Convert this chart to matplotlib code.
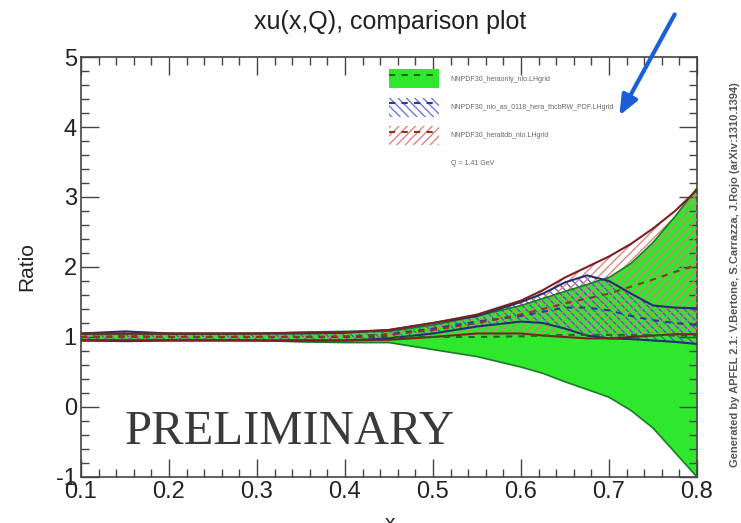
import matplotlib
matplotlib.use('Agg')
import matplotlib.pyplot as plt
from matplotlib.patches import Patch
from matplotlib.lines import Line2D
from matplotlib.ticker import MultipleLocator

# x grid
x = [0.10, 0.15, 0.20, 0.25, 0.30, 0.35, 0.40, 0.45, 0.50, 0.55,
     0.60, 0.625, 0.65, 0.675, 0.70, 0.725, 0.75, 0.775, 0.80]

# NNPDF30_heraonly_nlo (green, solid)
green_up = [1.04, 1.04, 1.04, 1.04, 1.05, 1.07, 1.08, 1.08, 1.17, 1.30,
            1.45, 1.55, 1.65, 1.75, 1.85, 2.05, 2.35, 2.72, 3.13]
green_lo = [0.96, 0.96, 0.96, 0.96, 0.95, 0.93, 0.92, 0.92, 0.82, 0.72,
            0.57, 0.48, 0.36, 0.25, 0.14, -0.05, -0.30, -0.65, -1.00]
green_c = [1.00, 1.00, 1.00, 1.00, 1.00, 1.00, 1.00, 1.00, 1.00, 1.00,
           1.01, 1.02, 1.03, 1.03, 1.03, 1.03, 1.03, 1.02, 1.02]

# NNPDF30_nlo_as_0118_hera_thcbRW (blue, hatched)
blue_up = [1.05, 1.08, 1.05, 1.05, 1.05, 1.05, 1.06, 1.10, 1.20, 1.30,
           1.50, 1.62, 1.78, 1.88, 1.80, 1.62, 1.45, 1.42, 1.41]
blue_lo = [0.95, 0.94, 0.95, 0.95, 0.95, 0.95, 0.95, 0.98, 1.05, 1.15,
           1.22, 1.20, 1.12, 1.02, 0.98, 0.97, 0.95, 0.93, 0.90]
blue_c = [1.00, 1.01, 1.00, 1.00, 1.00, 1.00, 1.00, 1.04, 1.12, 1.22,
          1.30, 1.36, 1.42, 1.42, 1.38, 1.30, 1.24, 1.20, 1.17]

# NNPDF30_heraltdb_nlo (red, hatched)
red_up = [1.05, 1.05, 1.05, 1.05, 1.05, 1.06, 1.07, 1.10, 1.20, 1.32,
          1.52, 1.67, 1.85, 2.00, 2.15, 2.33, 2.55, 2.80, 3.10]
red_lo = [0.95, 0.95, 0.95, 0.95, 0.95, 0.95, 0.95, 0.96, 1.00, 1.05,
          1.05, 1.02, 1.00, 0.98, 0.98, 1.00, 1.02, 1.04, 1.04]
red_c = [1.00, 1.00, 1.00, 1.00, 1.00, 1.00, 1.01, 1.03, 1.10, 1.20,
         1.32, 1.40, 1.48, 1.55, 1.62, 1.72, 1.82, 1.93, 2.03]

labels = ['NNPDF30_heraonly_nlo.LHgrid',
          'NNPDF30_nlo_as_0118_hera_thcbRW_PDF.LHgrid',
          'NNPDF30_heraltdb_nlo.LHgrid']

xticks = [0.1, 0.2, 0.3, 0.4, 0.5, 0.6, 0.7, 0.8]
yticks = [-1, 0, 1, 2, 3, 4, 5]

plt.rcParams['font.family'] = ['Liberation Sans', 'DejaVu Sans']
plt.rcParams['hatch.linewidth'] = 0.9

fig = plt.figure(figsize=(7.41, 5.23), dpi=100)
ax = fig.add_axes([0.1093, 0.088, 0.8313, 0.803])

# green band
ax.fill_between(x, green_lo, green_up, facecolor='#2ee82e', edgecolor='none', zorder=1)
ax.plot(x, green_up, color='#1d7a2a', lw=1.2, zorder=4)
ax.plot(x, green_lo, color='#1d7a2a', lw=1.2, zorder=4)
ax.plot(x, green_c, color='#1d6a1d', lw=1.5, ls=(0, (3, 3)), zorder=5)

# blue band
ax.fill_between(x, blue_lo, blue_up, facecolor='none', edgecolor='#4a55c0', hatch='\\\\\\\\', lw=0, zorder=2)
ax.plot(x, blue_up, color='#23306e', lw=1.5, zorder=4)
ax.plot(x, blue_lo, color='#23306e', lw=1.5, zorder=4)
ax.plot(x, blue_c, color='#2a3a9a', lw=1.5, ls=(0, (3, 3)), zorder=5)

# red band
ax.fill_between(x, red_lo, red_up, facecolor='none', edgecolor='#e07a7a', hatch='////', lw=0, zorder=3)
ax.plot(x, red_up, color='#7a2222', lw=1.5, zorder=4)
ax.plot(x, red_lo, color='#7a2222', lw=1.5, zorder=4)
ax.plot(x, red_c, color='#8a3a1a', lw=1.5, ls=(0, (3, 3)), zorder=5)

ax.set_xlim(0.1, 0.8)
ax.set_ylim(-1, 5)
ax.set_xticks(xticks)
ax.set_xticklabels([f'{v:.1f}' for v in xticks])
ax.set_yticks(yticks)
ax.set_yticklabels([str(v) for v in yticks])
ax.xaxis.set_minor_locator(MultipleLocator(0.02))
ax.yaxis.set_minor_locator(MultipleLocator(0.2))
ax.tick_params(which='both', direction='in', top=True, right=True, colors='#444444',
               labelcolor='#222222', labelsize=17)
ax.tick_params(which='major', length=13, width=1, pad=3)
ax.tick_params(which='minor', length=6, width=1)
for s in ax.spines.values():
    s.set_color('#444444')
    s.set_linewidth(1.2)

ax.set_ylabel('Ratio', fontsize=15, color='#222222', labelpad=14)
fig.text(0.526, -0.02, 'x', fontsize=15, color='#222222', ha='center', va='bottom')
fig.text(0.526, 0.957, 'xu(x,Q), comparison plot', fontsize=18, color='#222222',
         ha='center', va='center')

# legend
handles = [
    (Patch(facecolor='#2ee82e', edgecolor='none'),
     Line2D([], [], color='#1d6a1d', lw=1.5, ls=(0, (3, 3)))),
    (Patch(facecolor='none', edgecolor='#6a6ae0', hatch='\\\\\\\\', lw=0),
     Line2D([], [], color='#2a3a9a', lw=1.5, ls=(0, (3, 3)))),
    (Patch(facecolor='none', edgecolor='#e07a7a', hatch='////', lw=0),
     Line2D([], [], color='#8a3a1a', lw=1.5, ls=(0, (3, 3)))),
    Patch(facecolor='none', edgecolor='none'),
]
leg = ax.legend(handles, labels + ['Q = 1.41 GeV'], loc='upper left',
                bbox_to_anchor=(386 / 741, 1 - 66 / 523), bbox_transform=fig.transFigure,
                frameon=False, fontsize=5, handlelength=7.2, handleheight=3.8,
                labelspacing=1.35, handletextpad=1.6, borderpad=0)
for t in leg.get_texts():
    t.set_color('#666666')

ax.text(0.071, 0.107, 'PRELIMINARY', transform=ax.transAxes, fontsize=35,
        family=['Liberation Serif', 'DejaVu Serif'], color='#3a3a3a', ha='left', va='center')

fig.text(0.992, 0.474,
         'Generated by APFEL 2.1: V.Bertone, S.Carrazza, J.Rojo (arXiv:1310.1394)',
         rotation=90, fontsize=8, fontweight='bold', color='#555555',
         ha='center', va='center')

ax.annotate('', xy=(618 / 741, 1 - 118 / 523), xytext=(676 / 741, 1 - 12 / 523),
            xycoords='figure fraction', textcoords='figure fraction',
            arrowprops=dict(arrowstyle='-|>,head_length=1.2,head_width=0.5',
                            color='#1a5ed8', lw=3))

fig.savefig('out.png', dpi=100)
